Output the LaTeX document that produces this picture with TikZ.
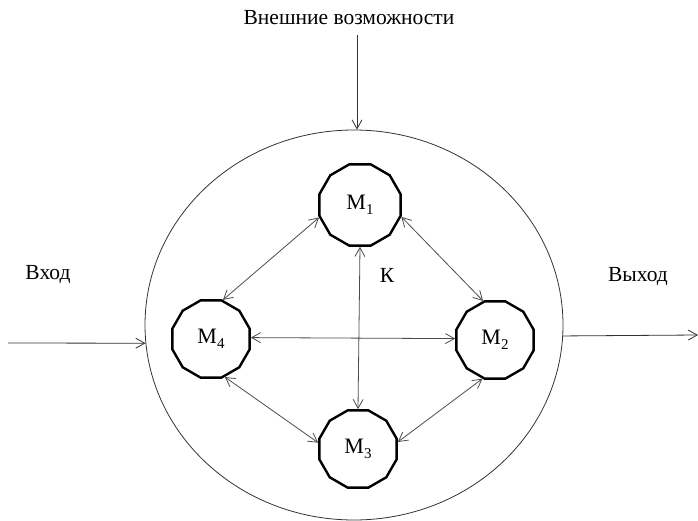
\documentclass[tikz,border=0pt]{standalone}
\usepackage{fontspec}
\setmainfont{Liberation Serif}
\newfontfamily\tms{Liberation Serif}
\usetikzlibrary{shapes.geometric,arrows.meta}
\tikzset{
  mod/.style={regular polygon, regular polygon sides=12, draw=black, line width=2.4pt, inner sep=0pt, minimum size=84pt, font=\tms\fontsize{22}{22}\selectfont},
  link/.style={draw=black!70, line width=0.8pt, {Straight Barb[length=9pt,width=10pt]}-{Straight Barb[length=9pt,width=10pt]}},
  flow/.style={draw=black!80, line width=0.8pt, -{Straight Barb[length=9pt,width=10pt]}},
  lbl/.style={font=\tms\fontsize{21.5}{21.5}\selectfont, inner sep=0pt}
}
\newcommand{\mlab}[1]{M\raisebox{-0.25em}{\fontsize{15}{15}\selectfont #1}}
\begin{document}
\begin{tikzpicture}[x=1pt,y=-1pt]
\useasboundingbox (0,0) rectangle (698,521);
\node[ellipse, draw=black!80, line width=0.8pt, minimum width=418pt, minimum height=390pt, inner sep=0pt] (sys) at (354,325) {};
\node[mod] (m1) at (360,205) {\mlab{1}};
\node[mod, minimum size=80pt] (m4) at (211,339) {\mlab{4}};
\node[mod, minimum size=80pt] (m2) at (495,340) {\mlab{2}};
\node[mod, minimum size=80pt] (m3) at (358,449) {\mlab{3}};
\node[lbl] (ext) at (349,18) {Внешние возможности};
\node[lbl] (in) at (48,275) {Вход};
\node[lbl] (out) at (638,277) {Выход};
\node[lbl] (k) at (387,275) {К};
\coordinate (extend) at (357,35);
\coordinate (instart) at (8,343);
\coordinate (outend) at (698,335);
\draw[flow] (extend) -- (sys.north -| extend);
\draw[flow] (instart) -- (sys.185);
\draw[flow] (sys.357) -- (outend);
\draw[link] (m1.197) -- (m4.73);
\draw[link] (m1.344) -- (m2.107);
\draw[link] (m1.270) -- (m3.90);
\draw[link] (m4.2) -- (m2.178);
\draw[link] (m4.290) -- (m3.171);
\draw[link] (m2.252) -- (m3.10);
\end{tikzpicture}
\end{document}
